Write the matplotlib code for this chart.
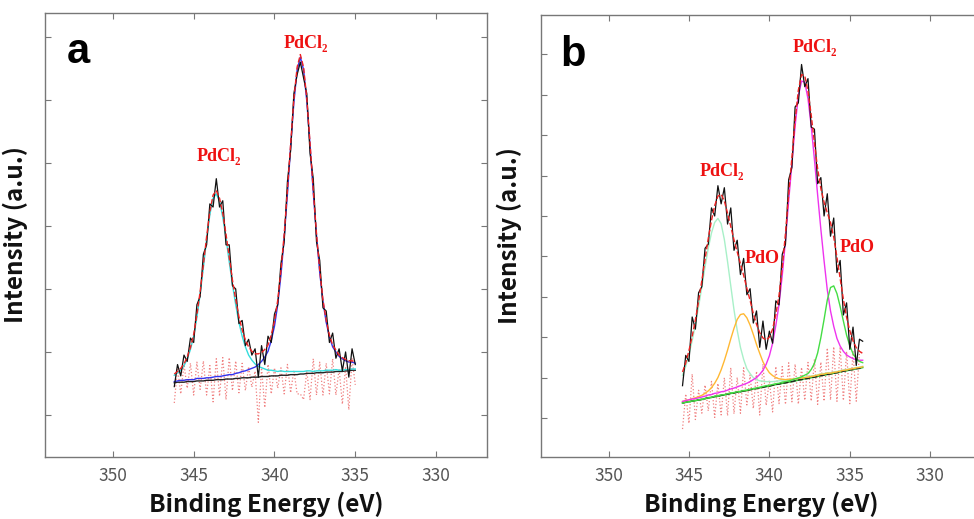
import numpy as np
import matplotlib
matplotlib.use('Agg')
import matplotlib.pyplot as plt

# ---- panel a: Pd 3d, PdCl2 only ----
start_a, step, n_pts = 346.2, 0.2, 57
energy_a = np.round(start_a - step * np.arange(n_pts), 1)
raw_a = [0.45, 0.80, 0.62, 0.95, 0.85, 1.22, 1.15, 1.75, 1.88, 2.55,
         2.70, 3.35, 3.30, 3.75, 3.30, 3.40, 2.70, 2.70, 2.05, 2.00,
         1.45, 1.50, 1.10, 1.20, 0.95, 1.05, 0.60, 1.10, 0.80, 1.25,
         1.15, 1.60, 1.75, 2.40, 2.75, 3.70, 4.20, 5.10, 5.40, 5.60,
         5.35, 5.10, 4.15, 3.75, 2.75, 2.45, 1.70, 1.65, 1.15, 1.30,
         0.90, 1.05, 0.70, 1.00, 0.60, 1.05, 0.80]
base_a = [0.51, 0.52, 0.52, 0.52, 0.53, 0.53, 0.53, 0.54, 0.54, 0.54,
          0.55, 0.55, 0.55, 0.56, 0.56, 0.56, 0.57, 0.57, 0.57, 0.58,
          0.58, 0.59, 0.59, 0.59, 0.60, 0.60, 0.60, 0.61, 0.61, 0.61,
          0.62, 0.62, 0.62, 0.63, 0.63, 0.63, 0.64, 0.64, 0.64, 0.65,
          0.65, 0.66, 0.66, 0.66, 0.67, 0.67, 0.67, 0.68, 0.68, 0.68,
          0.69, 0.69, 0.69, 0.70, 0.70, 0.71, 0.71]
pdcl2_32_a = [0.12, 0.15, 0.19, 0.26, 0.36, 0.51, 0.72, 1.01, 1.38, 1.80,
              2.24, 2.63, 2.89, 2.95, 2.83, 2.58, 2.24, 1.86, 1.50, 1.17,
              0.89, 0.66, 0.49, 0.36, 0.27, 0.21, 0.17, 0.14, 0.12, 0.10,
              0.09, 0.08, 0.07, 0.07, 0.06, 0.06, 0.05, 0.05, 0.05, 0.04,
              0.04, 0.04, 0.04, 0.03] + [0.03] * 7 + [0.02] * 6
pdcl2_52_a = [0.02, 0.02, 0.03, 0.03, 0.03, 0.03, 0.03, 0.04, 0.04, 0.04,
              0.04, 0.04, 0.05, 0.05, 0.05, 0.06, 0.06, 0.07, 0.07, 0.08,
              0.09, 0.10, 0.11, 0.13, 0.14, 0.16, 0.20, 0.24, 0.31, 0.40,
              0.56, 0.79, 1.13, 1.59, 2.18, 2.87, 3.62, 4.32, 4.83, 5.03,
              4.83, 4.32, 3.62, 2.87, 2.18, 1.59, 1.13, 0.79, 0.56, 0.40,
              0.31, 0.24, 0.20, 0.16, 0.14, 0.13, 0.11]

# ---- panel b: PdCl2 + PdO ----
start_b = 345.4
energy_b = np.round(start_b - step * np.arange(n_pts), 1)
raw_b = [0.80, 1.55, 1.40, 2.50, 2.20, 3.10, 3.25, 4.20, 4.30, 5.20,
         5.00, 5.75, 5.30, 5.70, 4.80, 5.20, 4.15, 4.40, 3.55, 3.95,
         3.05, 3.20, 2.35, 2.65, 1.75, 2.40, 1.70, 2.15, 1.85, 2.90,
         2.80, 4.05, 4.30, 5.90, 6.20, 7.70, 7.80, 8.75, 8.20, 8.40,
         7.20, 7.15, 5.80, 5.95, 5.00, 5.55, 4.50, 4.95, 3.60, 3.90,
         2.55, 2.85, 1.70, 2.25, 1.30, 1.95, 1.90]
base_b = [0.37, 0.39, 0.40, 0.42, 0.43, 0.45, 0.46, 0.48, 0.50, 0.51,
          0.53, 0.54, 0.56, 0.57, 0.59, 0.61, 0.62, 0.64, 0.65, 0.67,
          0.68, 0.70, 0.72, 0.73, 0.75, 0.76, 0.78, 0.79, 0.81, 0.83,
          0.84, 0.86, 0.87, 0.89, 0.90, 0.92, 0.94, 0.95, 0.97, 0.98,
          1.00, 1.01, 1.03, 1.05, 1.06, 1.08, 1.09, 1.11, 1.12, 1.14,
          1.16, 1.17, 1.19, 1.20, 1.22, 1.23, 1.25]
pdcl2_32_b = [0.69, 0.89, 1.17, 1.49, 1.88, 2.31, 2.78, 3.26, 3.70, 4.07,
              4.31, 4.40, 4.25, 3.85, 3.28, 2.66, 2.06, 1.53, 1.10, 0.78,
              0.54, 0.40, 0.28, 0.22, 0.17, 0.15, 0.12, 0.11, 0.09, 0.08,
              0.08, 0.07, 0.07, 0.06, 0.06, 0.05, 0.05, 0.05, 0.04] + [0.04] * 7 + [0.03] * 11
pdo_32_b = [0.04, 0.04, 0.05, 0.06, 0.07, 0.08, 0.10, 0.13, 0.17, 0.24,
            0.33, 0.46, 0.63, 0.85, 1.09, 1.35, 1.60, 1.80, 1.91, 1.91,
            1.80, 1.60, 1.35, 1.09, 0.85, 0.63, 0.46, 0.33, 0.24, 0.17,
            0.13, 0.10, 0.08, 0.07, 0.06, 0.05, 0.04, 0.04] + [0.03] * 8 + [0.02] * 11
pdcl2_52_b = [0.04, 0.04, 0.05, 0.05, 0.05, 0.05, 0.06, 0.06, 0.07, 0.07,
              0.08, 0.08, 0.09, 0.09, 0.10, 0.11, 0.12, 0.13, 0.15, 0.16,
              0.18, 0.20, 0.23, 0.27, 0.33, 0.42, 0.55, 0.75, 1.04, 1.46,
              1.97, 2.67, 3.52, 4.49, 5.39, 6.31, 7.03, 7.39, 7.34, 6.92,
              6.23, 5.39, 4.49, 3.62, 2.83, 2.09, 1.56, 1.16, 0.85, 0.64,
              0.49, 0.39, 0.32, 0.27, 0.22, 0.20, 0.18]
pdo_52_b = [0.00] * 10 + [0.01] * 15 + [0.02] * 5 + [
            0.02, 0.03, 0.03, 0.03, 0.04, 0.05, 0.05, 0.07, 0.09, 0.12,
            0.20, 0.34, 0.58, 0.94, 1.38, 1.84, 2.14, 2.16, 1.96, 1.62,
            1.24, 0.88, 0.60, 0.39, 0.25, 0.17, 0.12]

x_ticks = [350, 345, 340, 335, 330]

LABEL_FONT = ['Noto Sans CJK JP', 'DejaVu Sans']
SERIF = ['Liberation Serif', 'DejaVu Serif']

fig = plt.figure(figsize=(9.74, 5.19), dpi=100)
ax_a = fig.add_axes([0.0462, 0.1195, 0.4538, 0.8555])
ax_b = fig.add_axes([0.5554, 0.1195, 0.4517, 0.8516])


def style_axes(ax, ylim, nticks, ylab_x):
    ax.set_xlim(354.2, 326.85)
    ax.set_ylim(*ylim)
    ax.set_xticks(x_ticks)
    ax.set_yticks(range(nticks))
    ax.set_yticklabels([])
    ax.tick_params(direction='in', top=True, right=True, length=4, width=0.8,
                   color='#777777', labelcolor='#555555', labelsize=12.5, pad=7)
    for lab in ax.get_xticklabels():
        lab.set_family(LABEL_FONT)
    for s in ax.spines.values():
        s.set_color('#777777')
        s.set_linewidth(1.0)
    ax.set_xlabel('Binding Energy (eV)', family=LABEL_FONT, fontsize=17.5,
                  fontweight='bold', color='#111111', labelpad=5)
    ax.set_ylabel('Intensity (a.u.)', family=LABEL_FONT, fontsize=17.5,
                  fontweight='bold', color='#111111')
    ax.yaxis.set_label_coords(ylab_x, 0.5)


def peak_label(ax, x, y, s):
    ax.text(x, y, s, color='#ee1111', fontsize=13, fontweight='bold',
            family=SERIF, ha='center', va='center')


# panel a
base = np.array(base_a)
env = base + np.array(pdcl2_32_a) + np.array(pdcl2_52_a)
resid = np.array(raw_a) - env
ax_a.plot(energy_a, 0.55 + 1.8 * resid, ':', color='#f08080', lw=0.9)
ax_a.plot(energy_a, base, color='#222222', lw=1.0)
ax_a.plot(energy_a, base + np.array(pdcl2_32_a), color='#33dddd', lw=1.0)
ax_a.plot(energy_a, base + np.array(pdcl2_52_a), color='#3333ee', lw=1.0)
ax_a.plot(energy_a, raw_a, color='#111111', lw=0.9)
ax_a.plot(energy_a, env, '--', color='#ee2222', lw=1.0)
style_axes(ax_a, (-0.667, 6.38), 7, -0.038)
ax_a.text(0.075, 0.912, 'a', transform=ax_a.transAxes, fontsize=30,
          fontweight='bold', family=['Liberation Sans', 'DejaVu Sans'],
          ha='center', va='center')
peak_label(ax_a, 338.07, 5.90, 'PdCl₂')
peak_label(ax_a, 343.42, 4.10, 'PdCl₂')

# panel b
base = np.array(base_b)
env = (base + np.array(pdcl2_32_b) + np.array(pdo_32_b)
       + np.array(pdcl2_52_b) + np.array(pdo_52_b))
resid = np.array(raw_b) - env
ax_b.plot(energy_b, base + 1.6 * resid - 0.1, ':', color='#f08080', lw=0.9)
ax_b.plot(energy_b, base, color='#33bb33', lw=1.2)
ax_b.plot(energy_b, base, '--', color='#222222', lw=1.0)
ax_b.plot(energy_b, base + np.array(pdcl2_32_b), color='#a8f0c8', lw=1.0)
ax_b.plot(energy_b, base + np.array(pdo_32_b), color='#ffb833', lw=1.0)
ax_b.plot(energy_b, base + np.array(pdcl2_52_b), color='#ee33ee', lw=1.0)
ax_b.plot(energy_b, base + np.array(pdo_52_b), color='#44dd44', lw=1.0)
ax_b.plot(energy_b, raw_b, color='#111111', lw=0.9)
ax_b.plot(energy_b, env, '--', color='#ee2222', lw=1.0)
style_axes(ax_b, (-0.965, 9.975), 10, -0.043)
ax_b.text(0.073, 0.91, 'b', transform=ax_b.transAxes, fontsize=30,
          fontweight='bold', family=['Liberation Sans', 'DejaVu Sans'],
          ha='center', va='center')
peak_label(ax_b, 337.14, 9.16, 'PdCl₂')
peak_label(ax_b, 342.98, 6.09, 'PdCl₂')
peak_label(ax_b, 340.43, 3.96, 'PdO')
peak_label(ax_b, 334.53, 4.21, 'PdO')

fig.savefig('out.png', dpi=100)
